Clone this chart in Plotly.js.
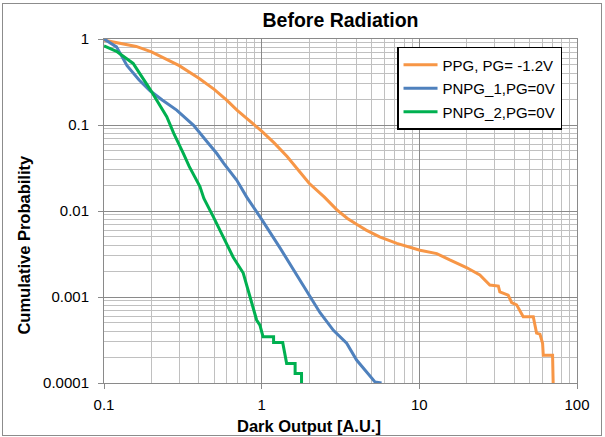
<!DOCTYPE html>
<html>
<head>
<meta charset="utf-8">
<script src="https://cdn.plot.ly/plotly-3.0.1.min.js"></script>
<style>
  html, body { margin: 0; padding: 0; background: #ffffff; }
  #wrap { position: relative; width: 605px; height: 437px; }
  #chart { position: absolute; left: 0; top: 0; width: 605px; height: 437px; }
  #frame { position: absolute; left: 2px; top: 3px; width: 598px; height: 431px;
           border: 1px solid #8c8c8c; pointer-events: none; }
</style>
</head>
<body>
<div id="wrap"><div id="chart"></div><div id="frame"></div></div>
<script>
// ---- data ----
const seriesNames = ["PPG, PG= -1.2V", "PNPG_1,PG=0V", "PNPG_2,PG=0V"];

const ppgX = [0.1, 0.13, 0.16, 0.2, 0.3, 0.4, 0.5, 0.6, 0.7, 0.8, 1.0, 1.2, 1.45, 2.0, 2.5, 3.0, 3.5, 4.0, 4.6, 5.6, 7.2, 10.1, 12.9, 15.6, 19.9, 24.2, 28.0, 31.7, 32.4, 36.6, 38.5, 41.4, 45.6, 52.8, 55.4, 58.2, 60.5, 61.1, 70.0, 70.6];
const ppgY = [0.97, 0.89, 0.82, 0.71, 0.49, 0.35, 0.26, 0.195, 0.148, 0.12, 0.085, 0.062, 0.043, 0.021, 0.0145, 0.0103, 0.0082, 0.0070, 0.0060, 0.0050, 0.0042, 0.0035, 0.0032, 0.0027, 0.0022, 0.0018, 0.00138, 0.00134, 0.00115, 0.00105, 0.00086, 0.00081, 0.00059, 0.00059, 0.00038, 0.00037, 0.00029, 0.00021, 0.00021, 0.0001];

const pnpg1X = [0.1, 0.12, 0.14, 0.153, 0.167, 0.196, 0.234, 0.289, 0.37, 0.46, 0.518, 0.575, 0.694, 0.804, 0.904, 1.0, 1.31, 1.67, 2.02, 2.34, 2.85, 3.46, 4.0, 4.63, 5.23, 5.76];
const pnpg1Y = [1.0, 0.81, 0.49, 0.40, 0.334, 0.25, 0.195, 0.149, 0.099, 0.061, 0.0469, 0.0358, 0.0229, 0.0145, 0.0107, 0.008, 0.0037, 0.0018, 0.00105, 0.00066, 0.00041, 0.00029, 0.000185, 0.000135, 0.000103, 0.0001];

const pnpg2X = [0.1, 0.12, 0.153, 0.196, 0.25, 0.277, 0.318, 0.347, 0.406, 0.43, 0.493, 0.57, 0.66, 0.764, 0.843, 0.929, 0.975, 1.02, 1.19, 1.19, 1.36, 1.38, 1.41, 1.44, 1.63, 1.63, 1.79, 1.79];
const pnpg2Y = [0.83, 0.72, 0.52, 0.26, 0.125, 0.08, 0.047, 0.033, 0.0192, 0.014, 0.0086, 0.0050, 0.0029, 0.0019, 0.00101, 0.00054, 0.00047, 0.000345, 0.000345, 0.000295, 0.000295, 0.000253, 0.000202, 0.000169, 0.000169, 0.000129, 0.000129, 0.0001];

const xTickVals = [0.1, 1, 10, 100];
const xTickText = ["0.1", "1", "10", "100"];
const yTickVals = [0.0001, 0.001, 0.01, 0.1, 1];
const yTickText = ["0.0001", "0.001", "0.01", "0.1", "1"];

const titleText = "Before Radiation";
const xTitle = "Dark Output [A.U.]";
const yTitle = "Cumulative Probability";

// ---- drawing ----
const colors = ["#F79646", "#4F81BD", "#00B050"];
const font = "'Liberation Sans', Arial, Helvetica, sans-serif";

const traces = [
  {x: ppgX, y: ppgY, name: seriesNames[0], legendgroup: "a"},
  {x: pnpg1X, y: pnpg1Y, name: seriesNames[1], legendgroup: "b"},
  {x: pnpg2X, y: pnpg2Y, name: seriesNames[2], legendgroup: "c"}
].map((t, i) => Object.assign(t, {
  type: "scatter", mode: "lines",
  line: {color: colors[i], width: 3},
  hoverinfo: "skip"
}));

const majorGrid = "#8a8a8a";
const minorGrid = "#c0c0c0";

const axisCommon = {
  type: "log",
  showgrid: true, gridcolor: majorGrid, gridwidth: 1,
  showline: true, linecolor: majorGrid, linewidth: 1, mirror: true,
  ticks: "outside", ticklen: 5, tickcolor: majorGrid, tickwidth: 1,
  tickfont: {family: font, size: 15, color: "#000000"},
  zeroline: false,
  tickmode: "array",
  minor: {dtick: "D1", showgrid: true, gridcolor: minorGrid, gridwidth: 1, ticks: ""}
};

const layout = {
  width: 605, height: 437,
  margin: {l: 104, r: 28, t: 39, b: 54},
  paper_bgcolor: "#ffffff", plot_bgcolor: "#ffffff",
  font: {family: font, color: "#000000"},
  title: {text: "<b>" + titleText + "</b>", font: {family: font, size: 19.5, color: "#000000"},
          x: 0.5, xref: "paper", y: 1 - 20 / 437, yref: "container", yanchor: "middle"},
  xaxis: Object.assign({}, axisCommon, {range: [-1, 2], tickvals: xTickVals, ticktext: xTickText, ticklabelstandoff: 3}),
  yaxis: Object.assign({}, axisCommon, {range: [-4, 0], tickvals: yTickVals, ticktext: yTickText, ticklabelstandoff: 6}),
  showlegend: true,
  legend: {x: 0.6195, y: 0.977, xanchor: "left", yanchor: "top",
           bgcolor: "#ffffff", bordercolor: "#000000", borderwidth: 1.5,
           font: {family: font, size: 15, color: "#000000"},
           tracegroupgap: 1, itemwidth: 34, entrywidth: 134, entrywidthmode: "pixels"},
  annotations: [
    {text: "<b>" + xTitle + "</b>", xref: "paper", yref: "paper", x: 0.4334, y: -0.125,
     xanchor: "center", yanchor: "middle", showarrow: false, font: {family: font, size: 16.5, color: "#000000"}},
    {text: "<b>" + yTitle + "</b>", xref: "paper", yref: "paper", x: -0.168, y: 0.401, textangle: -90,
     xanchor: "center", yanchor: "middle", showarrow: false, font: {family: font, size: 16.5, color: "#000000"}}
  ]
};

Plotly.newPlot("chart", traces, layout, {displayModeBar: false, staticPlot: true});
</script>
</body>
</html>
